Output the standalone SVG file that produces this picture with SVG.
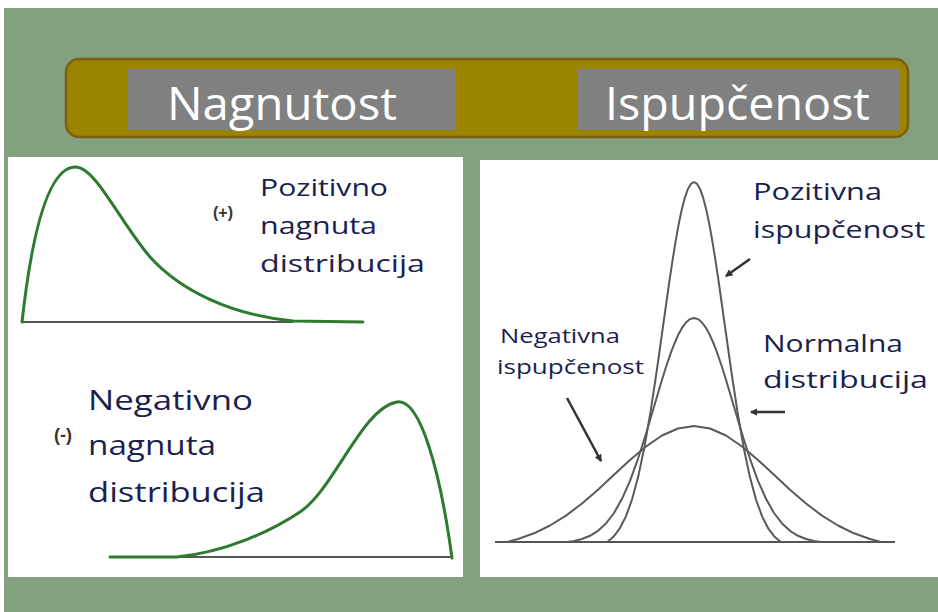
<svg xmlns="http://www.w3.org/2000/svg" width="938" height="612" viewBox="0 0 938 612">
<defs>
<style>
.bg{fill:#83a17f}
.panel{fill:#ffffff}
.title{font-family:"Open Sans","Liberation Sans",sans-serif;font-size:46px;fill:#ffffff}
.lbl{font-family:"Open Sans","Liberation Sans",sans-serif;fill:#1b1f4f}
.sign{font-family:"Liberation Sans",sans-serif;font-weight:bold;fill:#333333;text-anchor:middle}
.skew{fill:none;stroke:#2e7a2e;stroke-width:3;stroke-linejoin:round;stroke-linecap:round}
.axis{fill:none;stroke:#555555;stroke-width:2}
.bell{fill:none;stroke:#5a5a5a;stroke-width:2;stroke-linejoin:round}
.ptr{fill:none;stroke:#333333;stroke-width:2.5;marker-end:url(#ah)}
</style>
<marker id="ah" viewBox="0 0 6 6" refX="5" refY="3" markerWidth="3" markerHeight="3" orient="auto" markerUnits="strokeWidth">
<path d="M0,0 L6,3 L0,6 z" fill="#333333"/>
</marker>
</defs>
<rect x="0" y="0" width="938" height="612" fill="#ffffff"/>
<rect class="bg" x="4" y="8" width="934" height="604"/>

<g id="banner">
<rect x="66" y="59" width="842" height="78" rx="13" fill="#9b8400" stroke="#7d5e14" stroke-width="2.5"/>
<rect x="127" y="69" width="328" height="61" fill="#808080"/>
<rect x="578" y="69" width="322" height="61" fill="#808080"/>
<text class="title" x="167" y="120" textLength="230" lengthAdjust="spacingAndGlyphs">Nagnutost</text>
<text class="title" x="605" y="120" textLength="265" lengthAdjust="spacingAndGlyphs">Ispupčenost</text>
</g>

<g id="skew-panel">
<rect class="panel" x="8" y="157" width="455" height="420"/>
<g id="positive-skew">
<line class="axis" x1="22" y1="322" x2="293" y2="322"/>
<path class="skew" d="M22,322 C30,250 45,168 75,167 C95,166 120,222 150,257 C180,290 230,315 293,321 L363,322"/>
<text class="sign" x="223" y="218" font-size="16">(+)</text>
<text class="lbl" font-size="24" x="260" y="196" textLength="128" lengthAdjust="spacingAndGlyphs">Pozitivno</text>
<text class="lbl" font-size="24" x="260" y="234" textLength="117" lengthAdjust="spacingAndGlyphs">nagnuta</text>
<text class="lbl" font-size="24" x="260" y="272" textLength="165" lengthAdjust="spacingAndGlyphs">distribucija</text>
</g>
<g id="negative-skew">
<line class="axis" x1="177" y1="557" x2="452" y2="557"/>
<path class="skew" d="M110,557 L177,557 C225,552 270,532 300,512 C335,488 362,408 397,402 C420,398 440,470 452,558"/>
<text class="sign" x="63" y="441" font-size="18">(-)</text>
<text class="lbl" font-size="27" x="88" y="410" textLength="165" lengthAdjust="spacingAndGlyphs">Negativno</text>
<text class="lbl" font-size="27" x="88" y="455" textLength="128" lengthAdjust="spacingAndGlyphs">nagnuta</text>
<text class="lbl" font-size="27" x="88" y="502" textLength="177" lengthAdjust="spacingAndGlyphs">distribucija</text>
</g>
</g>

<g id="kurtosis-panel">
<rect class="panel" x="480" y="160" width="458" height="417"/>
<line class="axis" x1="495" y1="542" x2="895" y2="542" stroke-width="2.5"/>
<g id="curve-positive">
<polyline class="bell" points="607.2,542 613.4,536.8 619.6,528.7 625.8,516.6 632,499.6 638.2,476.6 644.4,447.2 650.6,411.4 656.8,370.5 663,326.5 669.2,282.6 672.3,261.8 675.4,242.6 678.5,225.1 681.6,210.3 684.7,198.2 687.8,189.3 690.9,183.9 694,182 697.1,183.9 700.2,189.3 703.3,198.2 706.4,210.3 709.5,225.1 712.6,242.6 715.7,261.8 718.8,282.6 725,326.5 731.2,370.5 737.4,411.4 743.6,447.2 749.8,476.6 756,499.6 762.2,516.6 768.4,528.7 774.6,536.8 780.8,542"/>
</g>
<g id="curve-normal">
<polyline class="bell" points="567,542 574,541 582,539 590,535.8 598,530.8 606,523.4 614,513 622,498.8 630,480.8 638,458.8 646,433.7 654,406.7 662,379.8 666,367 670,355.2 674,344.5 678,335.3 682,327.9 686,322.5 690,319.1 694,318 698,319.1 702,322.5 706,327.9 710,335.3 714,344.5 718,355.2 722,367 726,379.8 734,406.7 742,433.7 750,458.8 758,480.8 766,498.8 774,513 782,523.4 790,530.8 798,535.8 806,539 814,541 821,542"/>
</g>
<g id="curve-negative">
<polyline class="bell" points="507,542 518,539 534,533.3 550,525.5 566,515.6 582,503.5 598,489.7 614,474.8 630,460 646,446.5 662,435.5 678,428.5 694,426 710,428.5 726,435.5 742,446.5 758,460 774,474.8 790,489.7 806,503.5 822,515.6 838,525.5 854,533.3 870,539 881,542"/>
</g>
<g id="label-positive">
<text class="lbl" font-size="24" x="753" y="200" textLength="129" lengthAdjust="spacingAndGlyphs">Pozitivna</text>
<text class="lbl" font-size="24" x="753" y="238" textLength="172" lengthAdjust="spacingAndGlyphs">ispupčenost</text>
</g>
<g id="label-negative">
<text class="lbl" font-size="20" x="500" y="343" textLength="120" lengthAdjust="spacingAndGlyphs">Negativna</text>
<text class="lbl" font-size="20" x="497" y="374" textLength="147" lengthAdjust="spacingAndGlyphs">ispupčenost</text>
</g>
<g id="label-normal">
<text class="lbl" font-size="24" x="763" y="352" textLength="140" lengthAdjust="spacingAndGlyphs">Normalna</text>
<text class="lbl" font-size="24" x="763" y="388" textLength="165" lengthAdjust="spacingAndGlyphs">distribucija</text>
</g>
</g>

<g id="connectors">
<line class="ptr" x1="750" y1="259" x2="726" y2="276"/>
<line class="ptr" x1="785" y1="412" x2="751" y2="412"/>
<line class="ptr" x1="567" y1="398" x2="601" y2="461"/>
</g>
</svg>
